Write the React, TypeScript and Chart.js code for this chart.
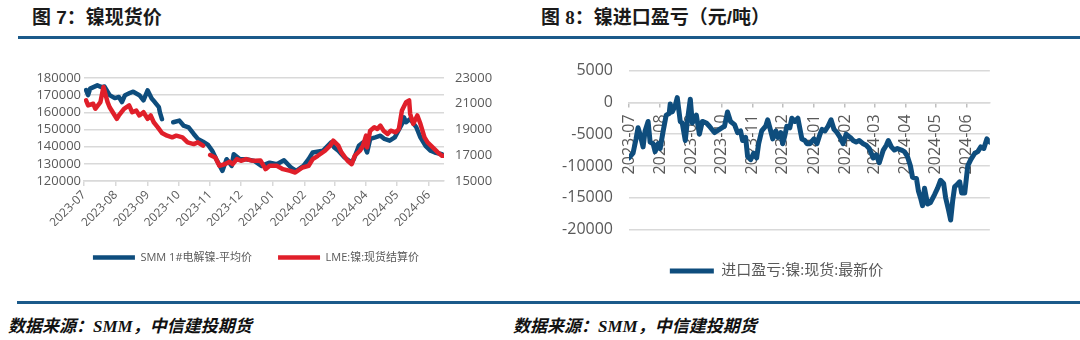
import React, { useEffect, useRef } from "react";
import { Chart, registerables } from "chart.js";

Chart.register(...registerables);

// ---------- data ----------
const monthLabels = [
  "2023-07", "2023-08", "2023-09", "2023-10", "2023-11", "2023-12",
  "2024-01", "2024-02", "2024-03", "2024-04", "2024-05", "2024-06",
];

const smmDates = [
  "2023-07-03", "2023-07-05", "2023-07-07", "2023-07-14", "2023-07-18", "2023-07-21",
  "2023-07-26", "2023-07-31", "2023-08-04", "2023-08-07", "2023-08-10", "2023-08-15",
  "2023-08-18", "2023-08-24", "2023-08-28", "2023-09-01", "2023-09-05", "2023-09-08",
  "2023-09-12", "2023-09-13", "2023-09-15", "2023-09-20", "2023-09-26", "2023-10-02",
  "2023-10-06", "2023-10-11", "2023-10-16", "2023-10-20", "2023-10-25", "2023-10-30",
  "2023-11-03", "2023-11-07", "2023-11-13", "2023-11-17", "2023-11-22", "2023-11-24",
  "2023-11-30", "2023-12-06", "2023-12-14", "2023-12-21", "2023-12-29", "2024-01-05",
  "2024-01-12", "2024-01-19", "2024-01-24", "2024-01-31", "2024-02-05", "2024-02-09",
  "2024-02-19", "2024-02-22", "2024-02-27", "2024-03-01", "2024-03-05", "2024-03-11",
  "2024-03-18", "2024-03-20", "2024-03-25", "2024-03-29", "2024-04-02", "2024-04-05",
  "2024-04-10", "2024-04-15", "2024-04-19", "2024-04-24", "2024-04-29", "2024-05-06",
  "2024-05-08", "2024-05-10", "2024-05-14", "2024-05-20", "2024-05-24", "2024-05-29",
  "2024-06-03", "2024-06-07", "2024-06-14",
];
const smmPrice = [
  173000, 170000, 173800, 175700, 174700, 175000,
  170000, 168300, 168900, 166000, 170000, 171400,
  172000, 170000, 167000, 172800, 168000, 166000,
  163000, 160000, 156000, null, 154200, 155200,
  152300, 151300, 147400, 144500, 142900, 141000,
  137600, 132700, 125900, 132700, 128800, 135600,
  132700, 132700, 131700, 128800, 130700, 129800,
  132100, 127700, 125900, 128800, 132700, 136600,
  137600, 139500, 142500, 139500, 137600, 133700,
  130700, 132700, 140500, 142500, 136600, 144500,
  145400, 146400, 144500, 143500, 145400, 153200,
  157100, 154200, 156200, 151300, 145400, 140500,
  137600, 136600, 135600,
];

const lmeDates = [
  "2023-07-03", "2023-07-05", "2023-07-10", "2023-07-12", "2023-07-17", "2023-07-20",
  "2023-07-24", "2023-07-26", "2023-07-31", "2023-08-02", "2023-08-04", "2023-08-09",
  "2023-08-14", "2023-08-17", "2023-08-21", "2023-08-24", "2023-08-28", "2023-09-01",
  "2023-09-04", "2023-09-07", "2023-09-11", "2023-09-15", "2023-09-20", "2023-09-25",
  "2023-09-29", "2023-10-05", "2023-10-10", "2023-10-16", "2023-10-20", "2023-10-25",
  "2023-10-28", "2023-11-01", "2023-11-06", "2023-11-10", "2023-11-15", "2023-11-20",
  "2023-11-23", "2023-11-27", "2023-12-01", "2023-12-06", "2023-12-11", "2023-12-15",
  "2023-12-20", "2023-12-25", "2023-12-29", "2024-01-05", "2024-01-11", "2024-01-18",
  "2024-01-23", "2024-01-30", "2024-02-05", "2024-02-09", "2024-02-14", "2024-02-21",
  "2024-02-26", "2024-02-29", "2024-03-05", "2024-03-08", "2024-03-14", "2024-03-18",
  "2024-03-21", "2024-03-26", "2024-03-29", "2024-04-01", "2024-04-02", "2024-04-05",
  "2024-04-09", "2024-04-12", "2024-04-15", "2024-04-18", "2024-04-22", "2024-04-25",
  "2024-04-30", "2024-05-03", "2024-05-06", "2024-05-10", "2024-05-13", "2024-05-14",
  "2024-05-17", "2024-05-21", "2024-05-24", "2024-05-28", "2024-05-31", "2024-06-05",
  "2024-06-10", "2024-06-14", "2024-06-17",
];
const lmePrice = [
  21260, 20870, 21000, 20610, 21125, 22300,
  21125, 20730, 20090, 19830, 20090, 20610,
  20870, 20340, 20470, 20090, 20340, 19830,
  20090, 19560, 19170, 18730, 18520, 18390,
  18520, 18390, 18000, 17870, 18000, 17740,
  null, 17020, 16830, 16180, 16300, 16500,
  16310, 16700, 16570, 16700, 16600, 16570,
  16600, 15920, 16180, 16180, 15920, 15790,
  15660, 16050, 16180, 16700, 16960, 17350,
  17740, 18130, 17740, 17220, 16570, 16310,
  16960, 17350, 17740, 18520, 17610, 18910,
  19170, 19040, 19300, 18910, 18650, 18910,
  18780, 19040, 20480, 21125, 21260, 20220,
  19440, 20090, 19440, 18390, 18000, 17610,
  17220, 16960, 16960,
];

const importDates = [
  "2023-07-01", "2023-07-05", "2023-07-08", "2023-07-10", "2023-07-12", "2023-07-15",
  "2023-07-17", "2023-07-20", "2023-07-22", "2023-07-25", "2023-07-27", "2023-07-30",
  "2023-08-01", "2023-08-04", "2023-08-07", "2023-08-10", "2023-08-11", "2023-08-13",
  "2023-08-16", "2023-08-18", "2023-08-21", "2023-08-23", "2023-08-26", "2023-08-28",
  "2023-08-31", "2023-09-02", "2023-09-04", "2023-09-06", "2023-09-09", "2023-09-12",
  "2023-09-16", "2023-09-19", "2023-09-24", "2023-09-29", "2023-10-04", "2023-10-07",
  "2023-10-10", "2023-10-14", "2023-10-17", "2023-10-20", "2023-10-22", "2023-10-25",
  "2023-10-27", "2023-10-30", "2023-11-02", "2023-11-05", "2023-11-07", "2023-11-10",
  "2023-11-14", "2023-11-16", "2023-11-19", "2023-11-21", "2023-11-24", "2023-11-26",
  "2023-11-29", "2023-12-01", "2023-12-03", "2023-12-05", "2023-12-08", "2023-12-10",
  "2023-12-13", "2023-12-16", "2023-12-20", "2023-12-23", "2023-12-25", "2023-12-28",
  "2024-01-01", "2024-01-04", "2024-01-07", "2024-01-09", "2024-01-12", "2024-01-15",
  "2024-01-18", "2024-01-21", "2024-01-24", "2024-01-27", "2024-01-30", "2024-02-02",
  "2024-02-06", "2024-02-09", "2024-02-12", "2024-02-15", "2024-02-19", "2024-02-22",
  "2024-02-25", "2024-02-29", "2024-03-03", "2024-03-06", "2024-03-10", "2024-03-13",
  "2024-03-15", "2024-03-18", "2024-03-21", "2024-03-24", "2024-03-28", "2024-03-31",
  "2024-04-03", "2024-04-06", "2024-04-08", "2024-04-12", "2024-04-14", "2024-04-16",
  "2024-04-18", "2024-04-20", "2024-04-23", "2024-04-26", "2024-04-30", "2024-05-03",
  "2024-05-06", "2024-05-09", "2024-05-11", "2024-05-14", "2024-05-16", "2024-05-18",
  "2024-05-20", "2024-05-22", "2024-05-25", "2024-05-27", "2024-05-30", "2024-06-02",
  "2024-06-05", "2024-06-09", "2024-06-12", "2024-06-15", "2024-06-18", "2024-06-21",
  "2024-06-24",
];
const importProfit = [
  -8750, -8000, -5750, -4000, -5000, -7000,
  -4500, -3000, -6250, -6500, -7750, -6500,
  -7250, -4500, -2000, -1750, -250, -1500,
  -500, 750, -3000, -3250, -6000, -3000,
  500, -3250, -2500, -2000, -5000, -3000,
  -3250, -3750, -4750, -4250, -3750, -1500,
  -3000, -3500, -4750, -4500, -6000, -5500,
  -8500, -9000, -8000, -8750, -6500, -4500,
  -3750, -2750, -4500, -5750, -4500, -5500,
  -4750, -6500, -5250, -3750, -4000, -2500,
  -3000, -2500, -5750, -6000, -6500, -6500,
  -5750, -6500, -5000, -4250, -4500, -3750,
  -2750, -4250, -4750, -5500, -6500, -5000,
  -5500, -6000, -6250, -6000, -6500, -6750,
  -7250, -8750, -8250, -9500, -7500, -6750,
  -6000, -7000, -7500, -7250, -7500, -7750,
  -8500, -10000, -11750, -12000, -14000, -15000,
  -16250, -13500, -16000, -15750, -14500, -13500,
  -12250, -12750, -15000, -17000, -18500, -15500,
  -13250, -13000, -12500, -14250, -14250, -10000,
  -9000, -8000, -7750, -7000, -7250, -5750,
  -6250,
];

// ---------- helpers ----------
const BASE = Date.UTC(2023, 6, 1);
const dayOf = (s: string) => {
  const [y, m, d] = s.split("-").map(Number);
  return (Date.UTC(y, m - 1, d) - BASE) / 86400000;
};
const monthOffsets = monthLabels.map((l) => dayOf(l + "-01"));
const toPoints = (dates: string[], vals: (number | null)[]) =>
  dates.map((d, i) => ({ x: dayOf(d), y: vals[i] }));
const plain = (v: any) => String(v);

const BLUE = "#0E4D7D";
const RED = "#E01F2A";
const GRID = "#d9d9d9";
const TXT = "#595959";
const FONT = "'Open Sans', 'Noto Sans CJK SC', sans-serif";

function PriceChart() {
  const ref = useRef<HTMLCanvasElement | null>(null);
  useEffect(() => {
    if (!ref.current) return;
    const chart = new Chart(ref.current, {
      type: "line",
      data: {
        datasets: [
          {
            label: "SMM 1#电解镍-平均价",
            data: toPoints(smmDates, smmPrice) as any,
            borderColor: BLUE,
            backgroundColor: BLUE,
            borderWidth: 4.5,
            pointRadius: 0,
            pointStyle: "line",
            borderCapStyle: "round",
            borderJoinStyle: "round",
            yAxisID: "y",
            order: 1,
            spanGaps: false,
          },
          {
            label: "LME:镍:现货结算价",
            data: toPoints(lmeDates, lmePrice) as any,
            borderColor: RED,
            backgroundColor: RED,
            borderWidth: 4.5,
            pointRadius: 0,
            pointStyle: "line",
            borderCapStyle: "round",
            borderJoinStyle: "round",
            yAxisID: "y1",
            order: 0,
            spanGaps: false,
          },
        ],
      },
      options: {
        responsive: false,
        animation: false,
        layout: { padding: { top: 33, bottom: 0, left: 0, right: 0 } },
        plugins: {
          tooltip: { enabled: false },
          legend: {
            position: "bottom",
            labels: {
              usePointStyle: true,
              pointStyleWidth: 42,
              color: TXT,
              font: { family: FONT, size: 11 },
              padding: 26,
              sort: (a: any, b: any) => a.datasetIndex - b.datasetIndex,
            },
          },
        },
        scales: {
          x: {
            type: "linear",
            min: 0,
            max: 351,
            afterBuildTicks: (s: any) => {
              s.ticks = monthOffsets.map((v) => ({ value: v }));
            },
            afterFit: (s: any) => {
              s.height = 45;
            },
            ticks: {
              autoSkip: false,
              minRotation: 45,
              maxRotation: 45,
              color: TXT,
              font: { family: FONT, size: 12 },
              padding: 2,
              callback: (_v: any, i: number) => monthLabels[i],
            },
            grid: { drawOnChartArea: false, drawTicks: true, tickLength: 5, color: GRID, lineWidth: 1.5 },
            border: { display: true, color: GRID, width: 1.5 },
          },
          y: {
            position: "left",
            min: 120000,
            max: 180000,
            afterFit: (s: any) => {
              s.width = 66;
            },
            ticks: {
              stepSize: 10000,
              autoSkip: false,
              color: TXT,
              font: { family: FONT, size: 13 },
              padding: 3,
              callback: plain,
            },
            grid: { color: GRID, lineWidth: 1.5, drawTicks: false },
            border: { display: false },
          },
          y1: {
            position: "right",
            min: 15000,
            max: 23000,
            afterFit: (s: any) => {
              s.width = 50;
            },
            ticks: {
              stepSize: 2000,
              autoSkip: false,
              color: TXT,
              font: { family: FONT, size: 13 },
              padding: 11,
              callback: plain,
            },
            grid: { drawOnChartArea: false, drawTicks: false },
            border: { display: false },
          },
        },
      } as any,
    });
    return () => chart.destroy();
  }, []);
  return (
    <canvas
      ref={ref}
      width={476}
      height={228}
      style={{ position: "absolute", left: 18, top: 45, width: 476, height: 228 }}
    />
  );
}

function ImportChart() {
  const ref = useRef<HTMLCanvasElement | null>(null);
  useEffect(() => {
    if (!ref.current) return;
    const chart = new Chart(ref.current, {
      type: "line",
      data: {
        datasets: [
          {
            label: "进口盈亏:镍:现货:最新价",
            data: toPoints(importDates, importProfit) as any,
            borderColor: BLUE,
            backgroundColor: BLUE,
            borderWidth: 5,
            pointRadius: 0,
            pointStyle: "line",
            borderCapStyle: "round",
            borderJoinStyle: "round",
          },
        ],
      },
      options: {
        responsive: false,
        animation: false,
        layout: { padding: { top: 18, bottom: 1.5, left: 0, right: 1 } },
        plugins: {
          tooltip: { enabled: false },
          legend: {
            position: "bottom",
            labels: {
              usePointStyle: true,
              pointStyleWidth: 44,
              color: TXT,
              font: { family: FONT, size: 15 },
              padding: 34,
            },
          },
        },
        scales: {
          x: {
            type: "linear",
            position: { y: 0 },
            min: 0,
            max: 359,
            afterBuildTicks: (s: any) => {
              s.ticks = monthOffsets.map((v) => ({ value: v }));
            },
            ticks: {
              autoSkip: false,
              minRotation: 90,
              maxRotation: 90,
              color: TXT,
              font: { family: FONT, size: 16 },
              padding: 8,
              callback: (_v: any, i: number) => monthLabels[i],
            },
            grid: { drawOnChartArea: false, drawTicks: true, tickLength: 4, color: "#bfbfbf", lineWidth: 1.5 },
            border: { display: true, color: GRID, width: 1.5 },
          },
          y: {
            min: -20000,
            max: 5000,
            afterFit: (s: any) => {
              s.width = 69;
            },
            ticks: {
              stepSize: 5000,
              autoSkip: false,
              color: TXT,
              font: { family: FONT, size: 16 },
              padding: 16,
              callback: plain,
            },
            grid: { color: GRID, lineWidth: 1.5, drawTicks: false },
            border: { display: false },
          },
        },
      } as any,
    });
    return () => chart.destroy();
  }, []);
  return (
    <canvas
      ref={ref}
      width={434}
      height={245}
      style={{ position: "absolute", left: 560, top: 45, width: 434, height: 245 }}
    />
  );
}

const titleStyle: React.CSSProperties = {
  position: "absolute",
  top: 8,
  fontFamily: "'Liberation Sans', 'Noto Sans CJK SC', sans-serif",
  fontWeight: 700,
  fontSize: 19,
  lineHeight: "20px",
  color: "#1a1a1a",
  whiteSpace: "nowrap",
};
const sourceStyle: React.CSSProperties = {
  position: "absolute",
  top: 318,
  fontFamily: "'Liberation Serif', 'Noto Sans CJK SC', serif",
  fontWeight: 700,
  fontStyle: "italic",
  fontSize: 17,
  lineHeight: "18px",
  color: "#111",
  whiteSpace: "nowrap",
};

export default function App() {
  return (
    <div
      style={{
        position: "absolute",
        left: 0,
        top: 0,
        width: 1080,
        height: 340,
        background: "#fff",
        overflow: "hidden",
      }}
    >
      <div style={{ ...titleStyle, left: 32 }}>图 7：镍现货价</div>
      <div style={{ ...titleStyle, left: 541 }}>
        图 <span style={{ fontFamily: "'Liberation Serif', serif" }}>8</span>：镍进口盈亏（元/吨）
      </div>
      <div style={{ position: "absolute", left: 18, top: 36, width: 1062, height: 3, background: "#1B5A8A" }} />
      <PriceChart />
      <ImportChart />
      <div style={{ position: "absolute", left: 17, top: 301, width: 1063, height: 3, background: "#1B5A8A" }} />
      <div style={{ ...sourceStyle, left: 8 }}>数据来源：SMM，中信建投期货</div>
      <div style={{ ...sourceStyle, left: 513 }}>数据来源：SMM，中信建投期货</div>
    </div>
  );
}
